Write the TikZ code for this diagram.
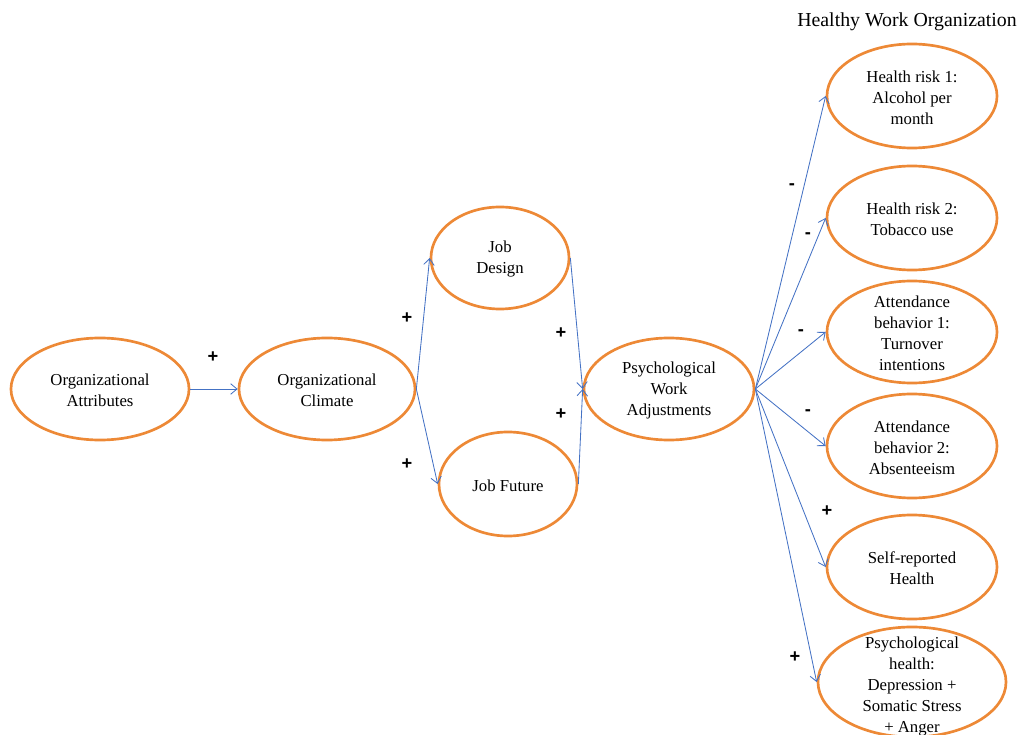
\documentclass[tikz,border=0pt]{standalone}
\usepackage{fontspec}
\setmainfont{Liberation Serif}
\setsansfont{Liberation Sans}
\usetikzlibrary{shapes.geometric, arrows.meta}
\definecolor{ellorange}{RGB}{237,137,54}
\definecolor{arrblue}{RGB}{68,114,196}
\tikzset{
  ell/.style={ellipse, draw=ellorange, line width=1.9pt, inner sep=0pt},
  lbl/.style={align=center, font=\fontsize{11.9}{14.9}\selectfont, yshift=-1pt},
  arr/.style={draw=arrblue, line width=0.6pt, -{Straight Barb[length=4.5pt,width=7.5pt]}},
  sign/.style={font=\sffamily\bfseries\fontsize{13}{15}\selectfont}
}
\begin{document}
\begin{tikzpicture}[x=0.025cm, y=-0.025cm]
                \useasboundingbox (0,0) rectangle (1021,735);
                \node[font=\fontsize{14.1}{16}\selectfont] (title) at (907,22) {Healthy Work Organization};

                % left part
                \node[ell, minimum width=4.45cm, minimum height=2.55cm, label={[lbl]center:Organizational\\Attributes}] (attr) at (100,389) {};
                \node[ell, minimum width=4.4cm, minimum height=2.55cm, label={[lbl]center:Organizational\\Climate}] (clim) at (327,389) {};
                \node[ell, minimum width=3.45cm, minimum height=2.55cm, label={[lbl]center:Job\\Design}] (jd) at (500,258) {};
                \node[ell, minimum width=3.45cm, minimum height=2.6cm, label={[lbl]center:Job Future}] (jf) at (508,484) {};
                \node[ell, minimum width=4.25cm, minimum height=2.55cm, label={[lbl]center:Psychological\\Work\\Adjustments}] (psy) at (669,389) {};

                % outcomes
                \node[ell, minimum width=4.25cm, minimum height=2.6cm, label={[lbl]center:Health risk 1:\\Alcohol per\\month}] (hr1) at (912,96) {};
                \node[ell, minimum width=4.25cm, minimum height=2.6cm, label={[lbl]center:Health risk 2:\\Tobacco use}] (hr2) at (912,218) {};
                \node[ell, minimum width=4.25cm, minimum height=2.55cm, label={[lbl]center:Attendance\\behavior 1:\\Turnover\\intentions}] (ab1) at (912,332) {};
                \node[ell, minimum width=4.25cm, minimum height=2.6cm, label={[lbl]center:Attendance\\behavior 2:\\Absenteeism}] (ab2) at (912,446) {};
                \node[ell, minimum width=4.25cm, minimum height=2.6cm, label={[lbl]center:Self-reported\\Health}] (self) at (912,567) {};
                \node[ell, minimum width=4.7cm, minimum height=2.75cm, label={[lbl, yshift=-2pt]center:Psychological\\health:\\Depression +\\Somatic Stress\\+ Anger}] (ph) at (912,682) {};

                \draw[arr] (attr.east) -- (clim.west);
                \draw[arr] (clim.east) -- (jd.west);
                \draw[arr] (clim.east) -- (jf.west);
                \draw[arr] (jd.east) -- (psy.west);
                \draw[arr] (jf.east) -- (psy.west);
                \draw[arr] (psy.east) -- (hr1.west);
                \draw[arr] (psy.east) -- (hr2.west);
                \draw[arr] (psy.east) -- (ab1.west);
                \draw[arr] (psy.east) -- (ab2.west);
                \draw[arr] (psy.east) -- (self.west);
                \draw[arr] (psy.east) -- (ph.west);

                % signs
                \node[sign] (s1) at (213,357) {+};
                \node[sign] (s2) at (407,318) {+};
                \node[sign] (s3) at (407,464) {+};
                \node[sign] (s4) at (561,333) {+};
                \node[sign] (s5) at (561,414) {+};
                \node[sign] (s6) at (792,187) {-};
                \node[sign] (s7) at (808,236) {-};
                \node[sign] (s8) at (801,333) {-};
                \node[sign] (s9) at (808,413) {-};
                \node[sign] (s10) at (827,511) {+};
                \node[sign] (s11) at (795,657) {+};
\end{tikzpicture}
\end{document}
